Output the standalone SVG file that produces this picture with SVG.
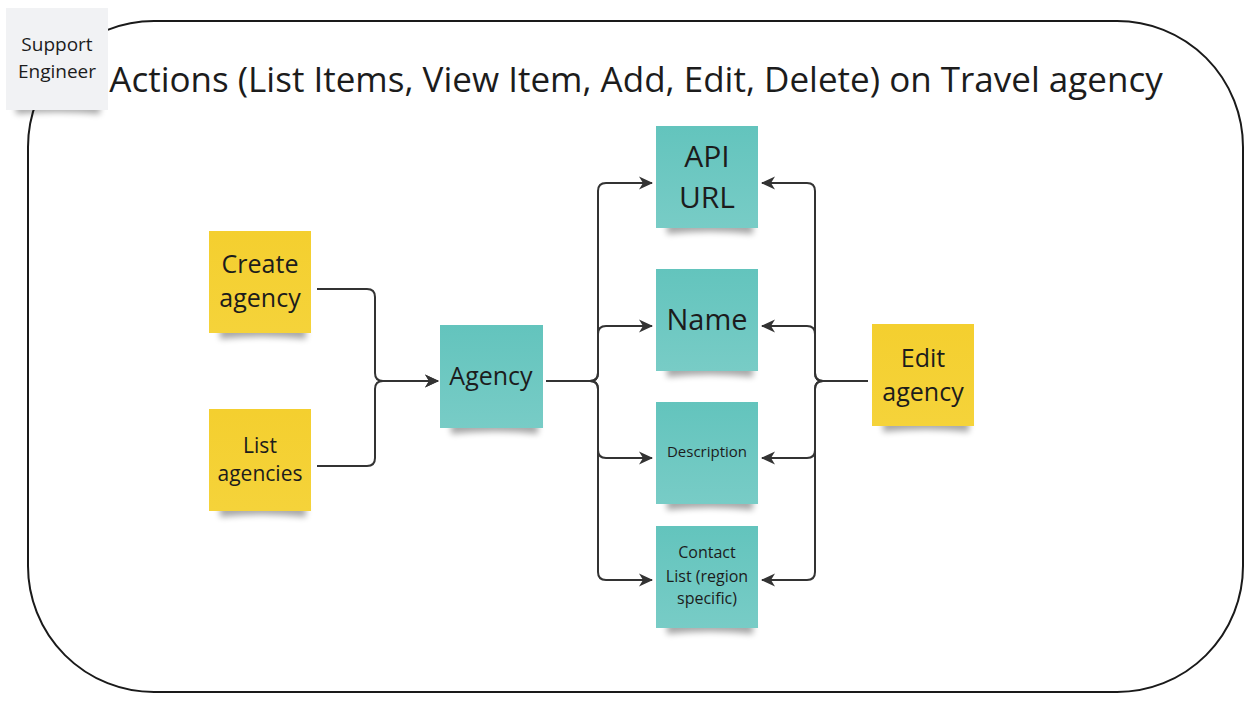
<svg xmlns="http://www.w3.org/2000/svg" width="1253" height="702" viewBox="0 0 1253 702">
<defs>
<style>
.t{font-family:"Open Sans","Noto Sans",sans-serif;fill:#1c1c1c;text-anchor:middle}
.c{fill:none;stroke:#333;stroke-width:2}
.s{fill:#000;opacity:0.35;filter:url(#bl)}
</style>
<filter id="bl" x="-20%" y="-100%" width="140%" height="300%"><feGaussianBlur stdDeviation="3"/></filter>
<linearGradient id="tg" x1="0" y1="0" x2="0" y2="1"><stop offset="0" stop-color="#63c4bd"/><stop offset="1" stop-color="#78ccc6"/></linearGradient>
<linearGradient id="yg" x1="0" y1="0" x2="0" y2="1"><stop offset="0" stop-color="#f4cf2f"/><stop offset="1" stop-color="#f5d33a"/></linearGradient>
<marker id="ar" viewBox="0 0 16 16" refX="14" refY="8" markerWidth="16" markerHeight="16" markerUnits="userSpaceOnUse" orient="auto">
<path d="M1,1.5 L15,8 L1,14.5 L5,8 z" fill="#333"/>
</marker>
</defs>
<rect width="1253" height="702" fill="#fff"/>
<rect x="28" y="21" width="1215" height="671" rx="126" ry="126" fill="none" stroke="#1a1a1a" stroke-width="2"/>
<text class="t" x="636" y="92" font-size="35">Actions (List Items, View Item, Add, Edit, Delete) on Travel agency</text>

<g id="support-engineer">
<path class="s" d="M16,104 H100 V114 Q58,110 16,114 z"/>
<rect x="6" y="8" width="102" height="102" fill="#f1f2f4"/>
<text class="t" x="57" y="51" font-size="19">Support</text>
<text class="t" x="57" y="78" font-size="19">Engineer</text>
</g>

<g id="connectors">
<path class="c" d="M317,289 H367 Q375,289 375,297 V373 Q375,381 383,381 H438" marker-end="url(#ar)"/>
<path class="c" d="M317,466 H367 Q375,466 375,458 V389 Q375,381 383,381 H438" marker-end="url(#ar)"/>
<path class="c" d="M546,381 H590 Q598,381 598,373 V191 Q598,183 606,183 H652" marker-end="url(#ar)"/>
<path class="c" d="M546,381 H590 Q598,381 598,373 V334 Q598,326 606,326 H652" marker-end="url(#ar)"/>
<path class="c" d="M546,381 H590 Q598,381 598,389 V450 Q598,458 606,458 H652" marker-end="url(#ar)"/>
<path class="c" d="M546,381 H590 Q598,381 598,389 V572 Q598,580 606,580 H652" marker-end="url(#ar)"/>
<path class="c" d="M868,381 H823 Q815,381 815,373 V191 Q815,183 807,183 H762" marker-end="url(#ar)"/>
<path class="c" d="M868,381 H823 Q815,381 815,373 V334 Q815,326 807,326 H762" marker-end="url(#ar)"/>
<path class="c" d="M868,381 H823 Q815,381 815,389 V450 Q815,458 807,458 H762" marker-end="url(#ar)"/>
<path class="c" d="M868,381 H823 Q815,381 815,389 V572 Q815,580 807,580 H762" marker-end="url(#ar)"/>
</g>

<g id="create-agency">
<path class="s" d="M220,327 H306 V339 Q262,334 220,339 z"/>
<rect x="209" y="231" width="102" height="102" fill="url(#yg)"/>
<text class="t" x="260" y="273" font-size="25">Create</text>
<text class="t" x="260" y="307" font-size="25">agency</text>
</g>

<g id="list-agencies">
<path class="s" d="M220,505 H306 V517 Q262,512 220,517 z"/>
<rect x="209" y="409" width="102" height="102" fill="url(#yg)"/>
<text class="t" x="260" y="453" font-size="21">List</text>
<text class="t" x="260" y="481" font-size="21">agencies</text>
</g>

<g id="agency">
<path class="s" d="M451,422 H538 V434 Q494,429 451,434 z"/>
<rect x="440" y="325" width="103" height="103" fill="url(#tg)"/>
<text class="t" x="491" y="385" font-size="25">Agency</text>
</g>

<g id="api-url">
<path class="s" d="M667,222 H753 V234 Q710,229 667,234 z"/>
<rect x="656" y="126" width="102" height="102" fill="url(#tg)"/>
<text class="t" x="707" y="167" font-size="30">API</text>
<text class="t" x="707" y="208" font-size="30">URL</text>
</g>

<g id="name">
<path class="s" d="M667,365 H753 V377 Q710,372 667,377 z"/>
<rect x="656" y="269" width="102" height="102" fill="url(#tg)"/>
<text class="t" x="707" y="330" font-size="29">Name</text>
</g>

<g id="description">
<path class="s" d="M667,498 H753 V510 Q710,505 667,510 z"/>
<rect x="656" y="402" width="102" height="102" fill="url(#tg)"/>
<text class="t" x="707" y="457" font-size="15">Description</text>
</g>

<g id="contact-list">
<path class="s" d="M667,622 H753 V634 Q710,629 667,634 z"/>
<rect x="656" y="526" width="102" height="102" fill="url(#tg)"/>
<text class="t" x="707" y="558" font-size="16">Contact</text>
<text class="t" x="707" y="582" font-size="16">List (region</text>
<text class="t" x="707" y="604" font-size="16">specific)</text>
</g>

<g id="edit-agency">
<path class="s" d="M883,420 H969 V432 Q926,427 883,432 z"/>
<rect x="872" y="324" width="102" height="102" fill="url(#yg)"/>
<text class="t" x="923" y="367" font-size="25">Edit</text>
<text class="t" x="923" y="401" font-size="25">agency</text>
</g>
</svg>
